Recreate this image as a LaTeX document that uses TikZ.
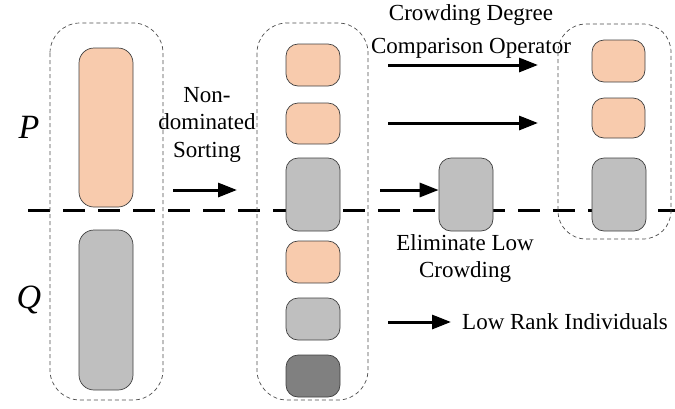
\documentclass[tikz,border=0pt]{standalone}
\usepackage{fontspec}
\setmainfont{Liberation Serif}
\newfontfamily\tnr{Liberation Serif}
\usetikzlibrary{arrows.meta}
\definecolor{orangefill}{HTML}{F8CBAD}
\definecolor{grayfill}{HTML}{BFBFBF}
\definecolor{darkfill}{HTML}{808080}
\definecolor{edgecol}{HTML}{404040}
\begin{document}
\begin{tikzpicture}[x=1pt,y=-1pt,
  container/.style={draw=black!70, dashed, dash pattern=on 4pt off 3pt, line width=0.7pt, rounded corners=30pt},
  indiv/.style={draw=edgecol, line width=0.7pt, rounded corners=12pt},
  bar/.style={draw=edgecol, line width=0.7pt, rounded corners=15pt},
  flow/.style={line width=3pt, -{Triangle[length=19pt,width=14pt]}},
  lbl/.style={font=\tnr\fontsize{23}{27.5}\selectfont, align=center, inner sep=0pt},
  poplbl/.style={font=\tnr\fontsize{34}{36}\selectfont\itshape, inner sep=0pt}
]
\useasboundingbox (0,0) rectangle (675,408);

% dividing dashed line
\coordinate (dl) at (28,210);
\coordinate (dr) at (675,210);
\draw[line width=3pt, dash pattern=on 22pt off 13pt] (dl) -- (dr);

% containers
\draw[container] (50,23) rectangle (163,400);
\draw[container] (257,23) rectangle (368,400);
\draw[container, rounded corners=28pt] (558,24) rectangle (671,239);

% left bars
\draw[bar, fill=orangefill] (79,48) rectangle (133,207);
\draw[bar, fill=grayfill] (79,230) rectangle (133,390);

% middle individuals
\draw[indiv, fill=orangefill] (286,44) rectangle (340,86);
\draw[indiv, fill=orangefill] (286,103) rectangle (340,144);
\draw[indiv, fill=grayfill] (286,158) rectangle (340,231);
\draw[indiv, fill=orangefill] (286,241) rectangle (340,283);
\draw[indiv, fill=grayfill] (286,298) rectangle (340,340);
\draw[indiv, fill=darkfill] (286,355) rectangle (340,397);

% eliminated
\node[indiv, fill=grayfill, minimum width=54pt, minimum height=73pt, inner sep=0pt] (elim) at (466,194.5) {};

% right individuals
\draw[indiv, fill=orangefill] (592,40) rectangle (645,82);
\draw[indiv, fill=orangefill] (592,98) rectangle (645,138);
\draw[indiv, fill=grayfill] (592,158) rectangle (646,231);

% labels
\node[poplbl] (P) at (29,127) {P};
\node[poplbl] (Q) at (29,300) {Q};

\node[lbl] (nds) at (207,124.5) {Non-\\dominated\\Sorting};
\coordinate (a0s) at (173,190);
\coordinate (a0e) at (237,190);
\draw[flow] (a0s) -- (a0e);

\node[lbl] (cdco) at (471,31.5) {Crowding Degree\\[5pt]Comparison Operator};
\coordinate (a1s) at (388,65);
\coordinate (a1e) at (538,65);
\draw[flow] (a1s) -- (a1e);
\coordinate (a2s) at (388,123);
\coordinate (a2e) at (538,123);
\draw[flow] (a2s) -- (a2e);
\coordinate (a3s) at (380,190);
\draw[flow] (a3s) -- (elim.west |- a3s);

\node[lbl] (elt) at (465,258.5) {Eliminate Low\\Crowding};

\coordinate (a4s) at (388,322);
\coordinate (a4e) at (451,322);
\draw[flow] (a4s) -- (a4e);
\node[lbl, anchor=west] (lri) at (462,322) {Low Rank Individuals};
\end{tikzpicture}
\end{document}
